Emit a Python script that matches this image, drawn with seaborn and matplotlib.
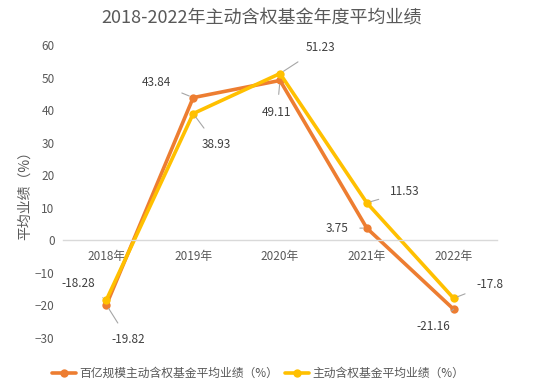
import pandas as pd
import matplotlib.pyplot as plt
import seaborn as sns

# === Data ===
years = ["2018年", "2019年", "2020年", "2021年", "2022年"]
big_fund = [-19.82, 43.84, 49.11, 3.75, -21.16]
all_fund = [-18.28, 38.93, 51.23, 11.53, -17.8]
series_names = ["百亿规模主动含权基金平均业绩（%）", "主动含权基金平均业绩（%）"]
colors = ["#ED7D31", "#FFC000"]

# label offsets in pixels (dx, dy screen-down)
big_offsets = [(22, 35), (-37, -15), (-3, 32), (-30, 0), (-20, 17)]
all_offsets = [(-28, -16), (23, 31), (40, -26), (38, -11), (36, -14)]

df = pd.DataFrame({
    "year": years * 2,
    "value": big_fund + all_fund,
    "series": [series_names[0]] * 5 + [series_names[1]] * 5,
})

# === Style ===
sns.set_theme(style="white")
plt.rcParams["font.family"] = ["Noto Sans CJK SC", "DejaVu Sans"]
grey = "#595959"

fig = plt.figure(figsize=(5.4, 3.92), dpi=100)
ax = fig.add_axes([63 / 540, 1 - 338 / 392, 434 / 540, 293 / 392])

sns.lineplot(data=df, x="year", y="value", hue="series", palette=colors,
             marker="o", markersize=6, markeredgewidth=0, linewidth=2.6,
             sort=False, ax=ax)

ax.set_ylim(-30, 60)
ax.set_xlim(-0.5, 4.5)
ax.set_yticks(range(-30, 61, 10))
ax.set_xlabel("")
ax.set_ylabel("平均业绩（%）", fontsize=10, color=grey, labelpad=2)

for s in ["top", "right", "left"]:
    ax.spines[s].set_visible(False)
ax.spines["bottom"].set_position(("data", 0))
ax.spines["bottom"].set_color("#d9d9d9")
ax.spines["bottom"].set_linewidth(1)
ax.tick_params(axis="both", length=0, labelsize=8.5, labelcolor=grey)
ax.tick_params(axis="x", pad=7)
ax.tick_params(axis="y", pad=6)

# === Data labels with leader lines ===
for vals, offs in [(big_fund, big_offsets), (all_fund, all_offsets)]:
    for i, (v, (dx, dy)) in enumerate(zip(vals, offs)):
        ax.annotate(f"{v:g}", xy=(i, v), xytext=(dx * 0.72, -dy * 0.72),
                    textcoords="offset points", ha="center", va="center",
                    fontsize=8.5, color="#404040",
                    arrowprops=dict(arrowstyle="-", color="#a6a6a6", lw=0.8,
                                    shrinkA=6, shrinkB=3))

fig.suptitle("2018-2022年主动含权基金年度平均业绩", x=0.485, y=0.975,
             fontsize=13, color=grey)

sns.move_legend(ax, "center", bbox_to_anchor=(0.45, -0.12), ncol=2,
                frameon=False, title=None, fontsize=8.5, handlelength=2.0,
                handletextpad=0.3, columnspacing=0.6)
for t in ax.get_legend().get_texts():
    t.set_color(grey)

fig.savefig("out.png", dpi=100)
